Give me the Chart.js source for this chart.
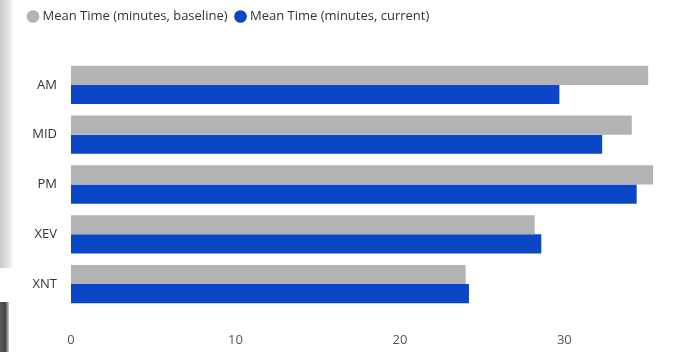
<!DOCTYPE html>
<html>
<head>
<meta charset="utf-8">
<script src="https://cdn.jsdelivr.net/npm/chart.js@4.4.1/dist/chart.umd.min.js"></script>
<style>
    html, body { margin: 0; padding: 0; background: #ffffff; }
    #wrap { position: relative; width: 690px; height: 352px; overflow: hidden; }
    #shadow { position: absolute; left: 0; top: 0; width: 14px; height: 268px;
        background: linear-gradient(to right, #c9c9c9, #e4e4e4 60%, #ffffff); }
    #edge { position: absolute; left: 0; top: 302px; width: 9px; height: 50px;
        background: linear-gradient(to right, #5a5a5a, #444 60%, #d0d0d0); }
    canvas { position: absolute; left: 0; top: 0; }
</style>
</head>
<body>
<div id="wrap">
    <div id="shadow"></div>
    <div id="edge"></div>
    <canvas id="timeChart" width="690" height="352"></canvas>
</div>
<script>
var categories = ['AM', 'MID', 'PM', 'XEV', 'XNT'];
var baselineValues = [35.1, 34.1, 35.4, 28.2, 24.0];
var currentValues = [29.7, 32.3, 34.4, 28.6, 24.2];
var xTicks = [0, 10, 20, 30];

document.addEventListener('DOMContentLoaded', function() {
    var ctx = document.getElementById('timeChart').getContext('2d');

    // push the plot area down below the legend
    var legendGap = {
        id: 'legendGap',
        beforeInit: function(chart) {
            var fit = chart.legend.fit;
            chart.legend.fit = function() {
                fit.bind(chart.legend)();
                this.height += 27;
            };
        }
    };

    new Chart(ctx, {
        type: 'bar',
        data: {
            labels: categories,
            datasets: [{
                label: 'Mean Time (minutes, baseline)',
                data: baselineValues,
                backgroundColor: '#b3b3b3'
            }, {
                label: 'Mean Time (minutes, current)',
                data: currentValues,
                backgroundColor: '#0b46c6'
            }]
        },
        options: {
            indexAxis: 'y',
            responsive: false,
            animation: false,
            datasets: {
                bar: { categoryPercentage: 0.77, barPercentage: 1.0 }
            },
            layout: {
                padding: { left: 20, right: 27, top: 0, bottom: 0 }
            },
            plugins: {
                legend: {
                    position: 'top',
                    align: 'start',
                    labels: {
                        usePointStyle: true,
                        pointStyle: 'circle',
                        boxWidth: 6,
                        boxHeight: 9,
                        padding: 10,
                        color: '#333333',
                        font: { family: 'Open Sans', size: 13 }
                    }
                },
                tooltip: { enabled: false }
            },
            scales: {
                x: {
                    min: 0,
                    max: 36,
                    grid: { display: false, drawTicks: false },
                    border: { display: false },
                    afterBuildTicks: function(scale) {
                        scale.ticks = xTicks.map(function(v) { return { value: v }; });
                    },
                    afterFit: function(scale) { scale.height = 43; },
                    ticks: {
                        padding: 23,
                        maxRotation: 0,
                        color: '#555555',
                        font: { family: 'Open Sans', size: 13 }
                    }
                },
                y: {
                    grid: { display: false, drawTicks: false },
                    border: { display: false },
                    afterFit: function(scale) { scale.width = 51; },
                    ticks: {
                        padding: 14,
                        color: '#333333',
                        font: { family: 'Open Sans', size: 13 }
                    }
                }
            }
        },
        plugins: [legendGap]
    });
});
</script>
</body>
</html>
